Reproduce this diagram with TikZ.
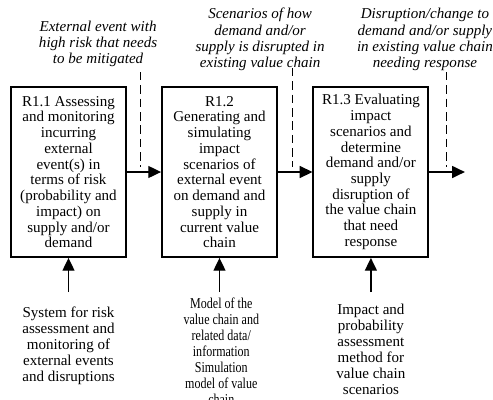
\documentclass[tikz,border=0pt]{standalone}
\usepackage{fontspec}
\setmainfont{Liberation Serif}
\newfontfamily\narrowserif[FakeStretch=0.8]{Liberation Serif}
\usepackage{tikz}
\usetikzlibrary{arrows.meta, positioning}

\begin{document}
\begin{tikzpicture}[
    actbox/.style = {rectangle, draw=black, line width=1.3pt, align=center, inner sep=2pt, minimum width=2.875cm, minimum height=4.25cm, font=\fontsize{10.7}{11.2}\selectfont},
    flow/.style = {draw=black, line width=1pt, -{Triangle[length=0.32cm, width=0.3cm]}},
    cue/.style = {draw=black, line width=0.8pt, dash pattern=on 6pt off 3.5pt},
    outlabel/.style = {align=center, inner sep=0pt, font=\fontsize{10.7}{11.6}\selectfont\itshape},
    inlabel/.style = {align=center, inner sep=0pt, font=\fontsize{10.7}{11.4}\selectfont}
]
\useasboundingbox (-1.7125,-5.675) rectangle (10.6125,4.3);

% Activity: R1.1
\node (a_assess) [actbox] at (0, 0) {
R1.1 Assessing\\
and monitoring\\
incurring\\
external\\
event(s) in\\
terms of risk\\
(probability and\\
impact) on\\
supply and/or\\
demand
};

% Activity: R1.2
\node (a_generate) [actbox] at (3.775, 0) {
R1.2\\
Generating and\\
simulating\\
impact\\
scenarios of\\
external event\\
on demand and\\
supply in\\
current value\\
chain
};

% Activity: R1.3
\node (a_evaluate) [actbox] at (7.56, 0) {
R1.3 Evaluating\\
impact\\
scenarios and\\
determine\\
demand and/or\\
supply\\
disruption of\\
the value chain\\
that need\\
response
};

% Outputs (top)
\node (l_event) [outlabel] at (0.74, 3.2) {
External event with\\
high risk that needs\\
to be mitigated
};
\node (l_scen) [outlabel] at (4.79, 3.31) {
Scenarios of how\\
demand and/or\\
supply is disrupted in\\
existing value chain
};
\node (l_disrupt) [outlabel] at (8.91, 3.31) {
Disruption/change to\\
demand and/or supply\\
in existing value chain\\
needing response
};

% Mechanisms (bottom)
\node (m_system) [inlabel] at (0, -4.35) {
System for risk\\
assessment and\\
monitoring of\\
external events\\
and disruptions
};
\node (m_model) [inlabel, font=\narrowserif\fontsize{10.7}{11.4}\selectfont] at (3.82, -4.48) {
Model of the\\
value chain and\\
related data/\\
information\\
Simulation\\
model of value\\
chain
};
\node (m_method) [inlabel] at (7.56, -4.43) {
Impact and\\
probability\\
assessment\\
method for\\
value chain\\
scenarios
};

% Helper points
\coordinate (p_out) at (9.91, 0);
\coordinate (d1_top) at (1.79, 2.5);
\coordinate (d1_bot) at (1.79, 0.12);
\coordinate (d2_top) at (5.61, 2.6);
\coordinate (d2_bot) at (5.61, 0.12);
\coordinate (d3_top) at (9.46, 2.5);
\coordinate (d3_bot) at (9.46, 0.12);
\coordinate (i1) at (0, -3.0);
\coordinate (i2) at (3.775, -3.0);
\coordinate (i3) at (7.56, -3.0);

% Connections
\draw [flow] (a_assess) -- (a_generate);
\draw [flow] (a_generate) -- (a_evaluate);
\draw [flow] (a_evaluate) -- (p_out);
\draw [cue] (d1_top) -- (d1_bot);
\draw [cue] (d2_top) -- (d2_bot);
\draw [cue] (d3_top) -- (d3_bot);
\draw [flow] (i1) -- (a_assess);
\draw [flow] (i2) -- (a_generate);
\draw [flow] (i3) -- (a_evaluate);

\end{tikzpicture}
\end{document}
